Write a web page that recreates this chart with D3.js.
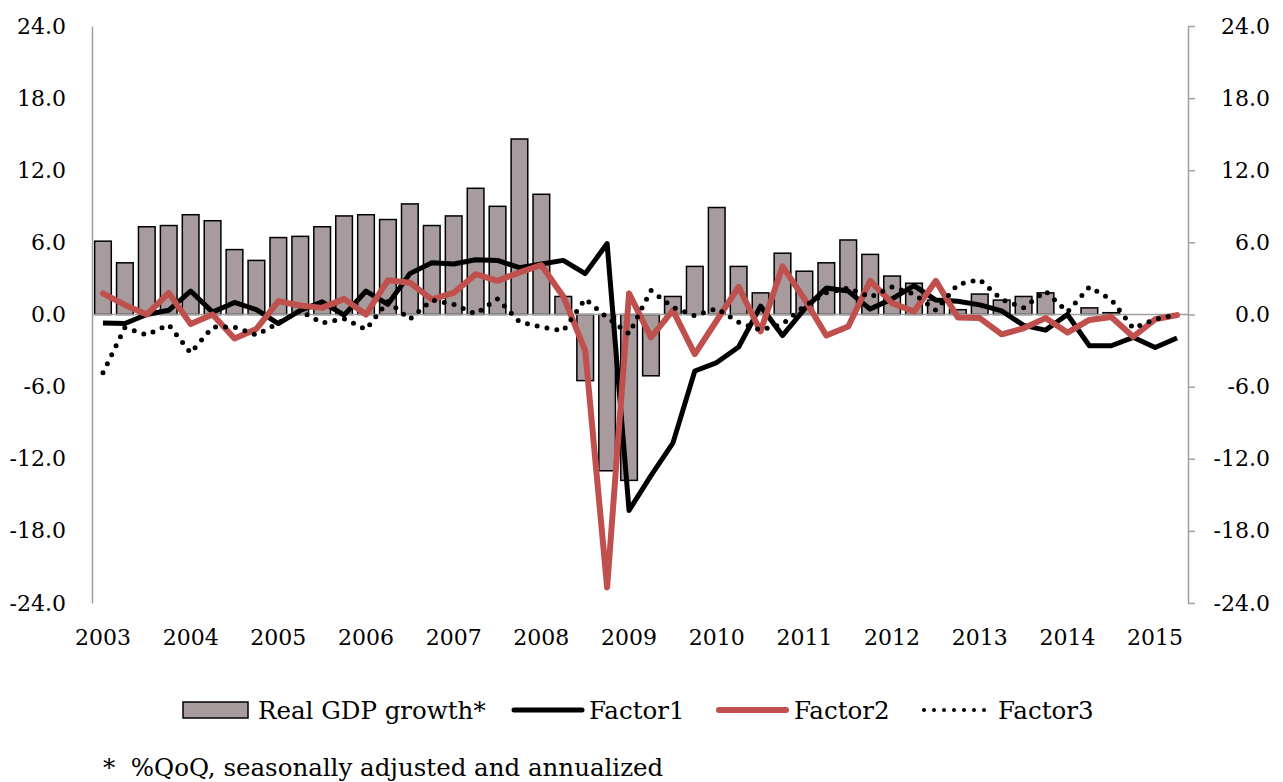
<!DOCTYPE html>
<html>
<head>
<meta charset="utf-8">
<script src="https://cdn.jsdelivr.net/npm/d3@7"></script>
<style>
  body { margin: 0; background: #fff; }
  svg text { font-family: "DejaVu Serif", "Liberation Serif", serif; fill: #000; }
</style>
</head>
<body>
<div id="chart"></div>
<script>
// quarterly data, 2003Q1 .. 2015Q2
const years = [2003, 2004, 2005, 2006, 2007, 2008, 2009, 2010, 2011, 2012, 2013, 2014, 2015];
const quarterNames = ["Q1", "Q2", "Q3", "Q4"];
const quarters = years.flatMap(y => quarterNames.map(q => y + q)).slice(0, 50);

const gdp = [6.1, 4.3, 7.3, 7.4, 8.3, 7.8, 5.4, 4.5, 6.4, 6.5,
             7.3, 8.2, 8.3, 7.9, 9.2, 7.4, 8.2, 10.5, 9.0, 14.6,
             10.0, 1.5, -5.5, -13.0, -13.8, -5.1, 1.5, 4.0, 8.9, 4.0,
             1.8, 5.1, 3.6, 4.3, 6.2, 5.0, 3.2, 2.6, 1.2, 0.4,
             1.7, 1.2, 1.5, 1.8, 0.0, 0.55, 0.15, null, null, null];

const factor1 = [-0.7, -0.75, 0.0, 0.35, 1.95, 0.2, 1.0, 0.4, -0.75, 0.35,
                 1.05, -0.05, 1.95, 0.85, 3.4, 4.3, 4.2, 4.55, 4.5, 3.9,
                 4.2, 4.5, 3.4, 5.9, -16.3, -13.4, -10.7, -4.7, -4.0, -2.7,
                 0.7, -1.75, 0.45, 2.2, 1.95, 0.45, 1.3, 2.4, 1.2, 1.1,
                 0.8, 0.3, -0.9, -1.3, 0.0, -2.6, -2.6, -1.9, -2.75, -1.95];

const factor2 = [1.75, 0.8, 0.0, 1.8, -0.8, 0.0, -2.0, -1.2, 1.1, 0.75,
                 0.55, 1.3, 0.0, 2.85, 2.65, 1.25, 1.8, 3.35, 2.8, 3.5,
                 4.1, 1.5, -3.0, -22.7, 1.75, -1.9, 0.35, -3.3, -0.5, 2.3,
                 -1.4, 4.0, 1.3, -1.75, -1.0, 2.8, 0.95, 0.25, 2.8, -0.25,
                 -0.3, -1.65, -1.15, -0.3, -1.5, -0.45, -0.2, -1.85, -0.4, -0.05];

const factor3 = [-4.85, -1.1, -1.7, -0.85, -3.2, -1.05, -1.05, -1.7, -0.7, 0.3,
                 -0.7, -0.35, -1.25, 1.1, -0.4, 1.2, 0.85, 0.05, 1.3, -0.6,
                 -1.05, -1.35, 1.3, -0.25, -1.6, 2.0, 0.6, -0.1, 0.5, -0.65,
                 -1.3, -0.8, 0.7, 1.8, 2.2, 1.45, 2.3, 1.7, 0.35, 2.5,
                 2.9, 1.25, 0.55, 1.95, 0.2, 2.3, 1.25, -1.15, -0.4, 0.0];

const yTicks = [-24, -18, -12, -6, 0, 6, 12, 18, 24];

const seriesNames = ["Real GDP growth*", "Factor1", "Factor2", "Factor3"];
const footnote = "*  %QoQ, seasonally adjusted and annualized";

const width = 1283, height = 782;
const plotLeft = 92, plotRight = 1188, plotTop = 26, plotBottom = 603;

const svg = d3.select("#chart").append("svg")
    .attr("width", width)
    .attr("height", height);

const x = d3.scaleBand()
    .domain(quarters)
    .range([plotLeft, plotRight])
    .paddingInner(0.24)
    .paddingOuter(0.12);

const y = d3.scaleLinear()
    .domain([-24, 24])
    .range([plotBottom, plotTop]);

const cx = d => x(d) + x.bandwidth() / 2;
const fmt = d => d.toFixed(1);

// bars
svg.append("g")
    .selectAll("rect")
    .data(quarters.map((q, i) => ({q, v: gdp[i]})).filter(d => d.v !== null))
    .enter().append("rect")
      .attr("x", d => x(d.q))
      .attr("y", d => y(Math.max(0, d.v)))
      .attr("width", x.bandwidth())
      .attr("height", d => Math.abs(y(d.v) - y(0)))
      .attr("fill", "#a79b9e")
      .attr("stroke", "#000")
      .attr("stroke-width", 1.5);

// zero line
svg.append("line")
    .attr("x1", plotLeft).attr("x2", plotRight)
    .attr("y1", y(0)).attr("y2", y(0))
    .attr("stroke", "#a0a0a0")
    .attr("stroke-width", 1.5);

// left axis
const yl = svg.append("g")
    .attr("transform", `translate(${plotLeft},0)`)
    .call(d3.axisLeft(y).tickValues(yTicks).tickFormat(fmt).tickSize(0).tickSizeOuter(0).tickPadding(26));
yl.select(".domain").attr("stroke", "#a0a0a0").attr("stroke-width", 1.5);
yl.selectAll("text").attr("font-size", 22).style("font-family", "DejaVu Serif");

// right axis
const yr = svg.append("g")
    .attr("transform", `translate(${plotRight},0)`)
    .call(d3.axisRight(y).tickValues(yTicks).tickFormat(fmt).tickSize(7).tickSizeOuter(0));
yr.select(".domain").attr("stroke", "#a0a0a0").attr("stroke-width", 1.5);
yr.selectAll("line").attr("stroke", "#a0a0a0").attr("stroke-width", 1.5);
yr.selectAll("text").attr("x", 82).attr("text-anchor", "end")
    .attr("font-size", 22).style("font-family", "DejaVu Serif");

// x axis (years)
const xa = svg.append("g")
    .attr("transform", `translate(0,${plotBottom})`)
    .call(d3.axisBottom(x)
        .tickValues(quarters.filter(q => q.endsWith("Q1")))
        .tickFormat(q => q.slice(0, 4))
        .tickSize(0).tickPadding(26));
xa.select(".domain").remove();
xa.selectAll("text").attr("font-size", 22).style("font-family", "DejaVu Serif");

// lines
const line = d3.line()
    .x((d, i) => cx(quarters[i]))
    .y(d => y(d));

svg.append("path")
    .datum(factor1)
    .attr("d", line)
    .attr("fill", "none")
    .attr("stroke", "#000")
    .attr("stroke-width", 5)
    .attr("stroke-linejoin", "round");

svg.append("path")
    .datum(factor2)
    .attr("d", line)
    .attr("fill", "none")
    .attr("stroke", "#c0504d")
    .attr("stroke-width", 6)
    .attr("stroke-linejoin", "round")
    .attr("stroke-linecap", "round");

svg.append("path")
    .datum(factor3)
    .attr("d", line)
    .attr("fill", "none")
    .attr("stroke", "#000")
    .attr("stroke-width", 5)
    .attr("stroke-linecap", "round")
    .attr("stroke-dasharray", "0 10");

// legend
const ly = 710;
const legend = svg.append("g").attr("font-size", 24.5);

legend.append("rect")
    .attr("x", 183).attr("y", ly - 8).attr("width", 65).attr("height", 16)
    .attr("fill", "#a79b9e").attr("stroke", "#000").attr("stroke-width", 1.5);
legend.append("text").attr("x", 258).attr("y", ly + 9).text(seriesNames[0]);

legend.append("line")
    .attr("x1", 514).attr("x2", 582).attr("y1", ly).attr("y2", ly)
    .attr("stroke", "#000").attr("stroke-width", 5).attr("stroke-linecap", "round");
legend.append("text").attr("x", 589).attr("y", ly + 9).text(seriesNames[1]);

legend.append("line")
    .attr("x1", 719).attr("x2", 786).attr("y1", ly).attr("y2", ly)
    .attr("stroke", "#c0504d").attr("stroke-width", 6).attr("stroke-linecap", "round");
legend.append("text").attr("x", 794).attr("y", ly + 9).text(seriesNames[2]);

legend.append("line")
    .attr("x1", 924).attr("x2", 985).attr("y1", ly).attr("y2", ly)
    .attr("stroke", "#000").attr("stroke-width", 4).attr("stroke-linecap", "round")
    .attr("stroke-dasharray", "0 10");
legend.append("text").attr("x", 998).attr("y", ly + 9).text(seriesNames[3]);

svg.append("text")
    .attr("x", 103).attr("y", 776)
    .attr("font-size", 24.5)
    .style("white-space", "pre")
    .text(footnote);
</script>
</body>
</html>
